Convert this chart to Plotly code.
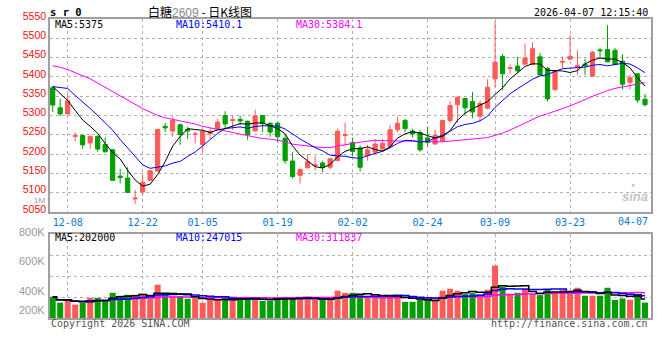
import plotly.graph_objects as go
import pandas as pd

# ---------------- data ----------------
dates = [
    "12-04", "12-05", "12-08", "12-09", "12-10", "12-11", "12-12", "12-15", "12-16", "12-17",
    "12-18", "12-19", "12-22", "12-23", "12-24", "12-25", "12-26", "12-29", "12-30", "12-31",
    "01-05", "01-06", "01-07", "01-08", "01-09", "01-12", "01-13", "01-14", "01-15", "01-16",
    "01-19", "01-20", "01-21", "01-22", "01-23", "01-26", "01-27", "01-28", "01-29", "01-30",
    "02-02", "02-03", "02-04", "02-05", "02-06", "02-09", "02-10", "02-11", "02-12", "02-13",
    "02-24", "02-25", "02-26", "02-27", "03-02", "03-03", "03-04", "03-05", "03-06",
    "03-09", "03-10", "03-11", "03-12", "03-13", "03-16", "03-17", "03-18", "03-19", "03-20",
    "03-23", "03-24", "03-25", "03-26", "03-27", "03-30", "03-31", "04-01", "04-02", "04-03",
    "04-07",
]

opens = [5372, 5320, 5304, 5246, 5248, 5229, 5246, 5225, 5211, 5143,
         5138, 5084, 5102, 5132, 5156, 5272, 5260, 5276, 5264, 5251,
         5225, 5253, 5264, 5300, 5287, 5290, 5285, 5260, 5300, 5280,
         5280, 5241, 5182, 5145, 5165, 5170, 5177, 5166, 5183, 5248,
         5230, 5216, 5196, 5205, 5213, 5220, 5263, 5287, 5260, 5256,
         5242, 5226, 5234, 5287, 5328, 5344, 5336, 5298, 5319, 5395,
         5453, 5422, 5428, 5433, 5432, 5452, 5422, 5367, 5438, 5446,
         5424, 5433, 5402, 5470, 5471, 5469, 5441, 5386, 5408, 5342]
highs = [5375, 5343, 5355, 5256, 5252, 5248, 5248, 5243, 5213, 5162,
         5166, 5107, 5147, 5158, 5265, 5281, 5297, 5279, 5271, 5258,
         5262, 5268, 5292, 5311, 5300, 5300, 5287, 5315, 5301, 5282,
         5283, 5251, 5205, 5163, 5200, 5196, 5183, 5190, 5266, 5281,
         5243, 5223, 5224, 5239, 5239, 5275, 5297, 5292, 5266, 5262,
         5271, 5264, 5289, 5337, 5350, 5346, 5361, 5339, 5394, 5544,
         5460, 5432, 5452, 5487, 5490, 5462, 5426, 5418, 5453, 5509,
         5469, 5447, 5467, 5476, 5534, 5475, 5458, 5407, 5410, 5356]
lows = [5309, 5299, 5303, 5233, 5213, 5214, 5206, 5204, 5131, 5124,
        5099, 5071, 5094, 5131, 5155, 5257, 5245, 5224, 5239, 5228,
        5205, 5239, 5263, 5266, 5263, 5275, 5237, 5259, 5257, 5245,
        5230, 5175, 5136, 5124, 5162, 5158, 5153, 5160, 5182, 5223,
        5194, 5155, 5183, 5201, 5205, 5217, 5256, 5257, 5243, 5206,
        5221, 5225, 5230, 5281, 5281, 5302, 5293, 5285, 5316, 5373,
        5365, 5409, 5409, 5432, 5431, 5404, 5336, 5364, 5422, 5445,
        5405, 5405, 5401, 5449, 5438, 5431, 5368, 5367, 5333, 5323]
closes = [5327, 5304, 5338, 5248, 5224, 5246, 5213, 5206, 5132, 5139,
          5101, 5086, 5127, 5157, 5264, 5268, 5287, 5251, 5260, 5252,
          5259, 5259, 5283, 5278, 5289, 5286, 5251, 5299, 5279, 5257,
          5245, 5183, 5142, 5160, 5180, 5172, 5166, 5188, 5259, 5250,
          5207, 5166, 5211, 5226, 5228, 5263, 5280, 5266, 5252, 5211,
          5230, 5249, 5287, 5326, 5347, 5320, 5309, 5331, 5373, 5438,
          5408, 5424, 5416, 5449, 5473, 5405, 5343, 5416, 5440, 5453,
          5430, 5429, 5464, 5468, 5439, 5432, 5381, 5398, 5340, 5328]
volumes = [202000, 147000, 163000, 128000, 147000, 192000, 192000, 170000, 240000, 212000,
           221000, 221000, 231000, 186000, 317000, 224000, 208000, 208000, 183000, 189000,
           144000, 176000, 183000, 192000, 176000, 173000, 192000, 192000, 163000, 163000,
           192000, 202000, 192000, 192000, 176000, 176000, 173000, 176000, 260000, 240000,
           240000, 218000, 199000, 208000, 208000, 212000, 212000, 154000, 154000, 176000,
           176000, 176000, 260000, 279000, 260000, 228000, 240000, 224000, 269000, 500000,
           298000, 221000, 240000, 276000, 228000, 218000, 269000, 250000, 269000, 244000,
           288000, 212000, 212000, 212000, 288000, 173000, 186000, 173000, 224000, 147000]

ma5_head = [5375, 5356, 5339, 5313]
ma10_head = [5375, 5373, 5370, 5352, 5336, 5318, 5300, 5282, 5262]
ma30_head = [5429, 5425, 5419, 5411, 5403, 5395, 5384, 5373, 5361, 5350,
             5341, 5330, 5318, 5309, 5300, 5294, 5290, 5285, 5281, 5278,
             5272, 5267, 5264, 5260, 5256, 5252, 5247, 5244, 5240]

tick_labels = ["12-08", "12-22", "01-05", "01-19", "02-02", "02-24", "03-09", "03-23"]
last_label = "04-07"
price_ticks = [5050, 5100, 5150, 5200, 5250, 5300, 5350, 5400, 5450, 5500, 5550]
vol_grid = [200000, 400000, 600000]
vol_labels = ["800K", "600K", "400K", "200K"]

title_name = "白糖"
title_code = "2609"
title_rest = " - 日K线图"
symbol = "s r 0"
stamp = "2026-04-07 12:15:40"
price_ma_text = ["MA5:5375", "MA10:5410.1", "MA30:5384.1"]
vol_ma_text = ["MA5:202000", "MA10:247015", "MA30:311837"]
copyright_text = "Copyright 2026 SINA.COM"
url_text = "http://finance.sina.com.cn"

# ---------------- derived ----------------
n = len(closes)
idx = list(range(n))
cs = pd.Series(closes, dtype=float)


def ma_series(window, head):
    m = cs.rolling(window).mean().tolist()
    return head + m[len(head):]


ma5 = ma_series(5, ma5_head)
ma10 = ma_series(10, ma10_head)
ma30 = ma_series(30, ma30_head)

vs = pd.Series(volumes, dtype=float)
vma5 = vs.rolling(5, min_periods=1).mean().tolist()
vma10 = vs.rolling(10, min_periods=1).mean().tolist()
vma30 = vs.rolling(30, min_periods=1).mean().tolist()

RED = "#ff5a5a"
GREEN = "#009f00"
bar_colors = [RED if c >= o else GREEN for o, c in zip(opens, closes)]
tickvals = [dates.index(d) for d in tick_labels]

MONO = "DejaVu Sans Mono"
SANS = "Liberation Sans, Arial"
CJK = "Noto Sans CJK SC"

# ---------------- figure ----------------
W, H = 660, 360
ML, MR, MT, MB = 50, 9, 19, 42
PW = W - ML - MR
PH = H - MT - MB


def px_x(x):
    return (x - ML) / PW


def px_y(y):
    return (H - MB - y) / PH


fig = go.Figure()

fig.add_trace(go.Candlestick(
    x=idx, open=opens, high=highs, low=lows, close=closes,
    increasing=dict(line=dict(color=RED, width=1), fillcolor=RED),
    decreasing=dict(line=dict(color=GREEN, width=1), fillcolor=GREEN),
    whiskerwidth=0, xaxis="x", yaxis="y", hoverinfo="skip",
))
for vals, col in [(ma30, "#ff00ff"), (ma10, "#0000ff"), (ma5, "#000000")]:
    fig.add_trace(go.Scatter(x=idx, y=vals, mode="lines",
                             line=dict(color=col, width=1),
                             xaxis="x", yaxis="y", hoverinfo="skip"))

fig.add_trace(go.Bar(x=idx, y=volumes, marker=dict(color=bar_colors, line=dict(width=0)),
                     width=0.8, xaxis="x2", yaxis="y2", hoverinfo="skip"))
for vals, col in [(vma30, "#ff00ff"), (vma10, "#0000ff"), (vma5, "#000000")]:
    fig.add_trace(go.Scatter(x=idx, y=vals, mode="lines",
                             line=dict(color=col, width=1.5, shape="hvh"),
                             xaxis="x2", yaxis="y2", hoverinfo="skip"))

xrange = [-0.36, n - 0.2]
grid = dict(showgrid=True, gridcolor="#b0b0b0", griddash="dot", gridwidth=1)
frame = dict(showline=True, linecolor="#a0a0a0", linewidth=1.5, mirror=True,
             zeroline=False, automargin=False)

fig.update_layout(
    template="none",
    width=W, height=H,
    margin=dict(l=ML, r=MR, t=MT, b=MB, autoexpand=False),
    paper_bgcolor="white", plot_bgcolor="white",
    showlegend=False, boxgap=0.2,
    xaxis=dict(domain=[0, 1], anchor="y", range=xrange, tickmode="array",
               tickvals=tickvals, ticktext=tick_labels, ticks="",
               tickfont=dict(family=MONO, size=10, color="#0a78d2"),
               rangeslider=dict(visible=False), **grid, **frame),
    yaxis=dict(domain=[px_y(212), 1], anchor="x", range=[5050, 5550], tickmode="array",
               tickvals=price_ticks, ticks="", ticklabelshift=-3,
               tickfont=dict(family=SANS, size=10.5, color="#ee1111"), **grid, **frame),
    xaxis2=dict(domain=[0, 1], anchor="y2", range=xrange, matches="x", tickmode="array",
                tickvals=tickvals, showticklabels=False, ticks="", **grid, **frame),
    yaxis2=dict(domain=[0, px_y(234)], anchor="x2", range=[0, 800000], tickmode="array",
                tickvals=vol_grid, showticklabels=False, ticks="", **grid, **frame),
)

anns = []


def ann(text, x, y, color="#000000", size=10, family=MONO, xanchor="left"):
    anns.append(dict(text=text, x=px_x(x), y=px_y(y), xref="paper", yref="paper",
                     xanchor=xanchor, yanchor="middle", showarrow=False,
                     font=dict(family=family, size=size, color=color)))


ann("<b>" + symbol + "</b>", 48, 12, size=10.5)
ann(title_name + "<span style='color:#8a8a8a;font-family:Liberation Sans'>" + title_code
    + "</span>" + title_rest, 200, 11, size=12, family=CJK, xanchor="center")
ann(stamp, 650, 12, xanchor="right")
for t, x, c in zip(price_ma_text, [53, 174, 294], ["#000000", "#0000ff", "#ff00ff"]):
    ann(t, x, 24.5, color=c)
for t, x, c in zip(vol_ma_text, [53, 174, 294], ["#000000", "#0000ff", "#ff00ff"]):
    ann(t, x, 237.5, color=c)
ann(last_label, 650, 221, color="#0a78d2", xanchor="right")
for t, y in zip(vol_labels, [232, 261, 291, 310]):
    ann(t, 47, y, color="#999999", size=11, family=SANS, xanchor="right")
ann("1M", 47, 200.5, color="#999999", size=8, family=SANS, xanchor="right")
ann(copyright_text, 49, 323.5, color="#555555")
ann(url_text, 650, 323.5, color="#555555", xanchor="right")
ann("<b><i>sina</i></b>", 635, 196, color="#c4c4c4", size=13, family=SANS, xanchor="center")
ann("●", 633, 184, color="#f6b0b0", size=7, family=SANS, xanchor="center")

fig.update_layout(annotations=anns)
fig.write_html("out.html", config={"displayModeBar": False},
               post_script="document.body.style.margin='0px';")
